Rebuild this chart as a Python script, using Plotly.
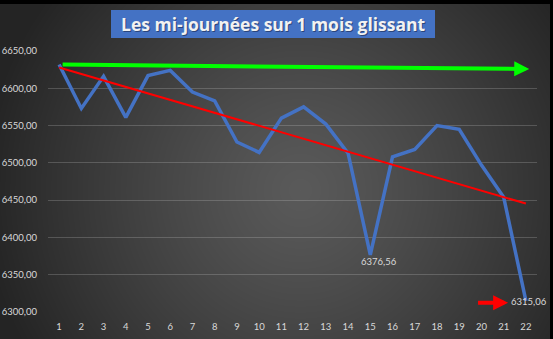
import base64
import struct
import zlib

import numpy as np
import plotly.graph_objects as go

# --- data -------------------------------------------------------------
jours = list(range(1, 23))
cours = [6632, 6573, 6616, 6561, 6617, 6624, 6595, 6583, 6528, 6514, 6560,
         6575, 6552, 6513, 6376.56, 6508, 6518, 6550, 6545, 6497, 6454, 6315.06]
y_ticks = [6300, 6350, 6400, 6450, 6500, 6550, 6600, 6650]
y_tick_labels = ["6300,00", "6350,00", "6400,00", "6450,00",
                 "6500,00", "6550,00", "6600,00", "6650,00"]
titre = "Les mi-journées sur 1 mois glissant"

# green "flat" arrow and small red arrow (data coordinates)
fleche_verte = {"x0": 1.09, "y0": 6631.8, "x1": 22.15, "y1": 6625.9}
fleche_rouge = {"x0": 19.78, "y0": 6312.5, "x1": 21.2, "y1": 6312.5}

# --- canvas geometry --------------------------------------------------
W, H = 553, 339
L, R, T, B = 48, 16, 51, 27
PW, PH = W - L - R, H - T - B


def px_x(x):
    return (x - L) / PW


def px_y(y):
    return (H - B - y) / PH


def png_data_uri(rgb):
    h, w, _ = rgb.shape
    raw = b"".join(b"\x00" + rgb[i].tobytes() for i in range(h))

    def chunk(tag, data):
        c = struct.pack(">I", len(data)) + tag + data
        return c + struct.pack(">I", zlib.crc32(tag + data) & 0xFFFFFFFF)

    png = (b"\x89PNG\r\n\x1a\n"
           + chunk(b"IHDR", struct.pack(">IIBBBBB", w, h, 8, 2, 0, 0, 0))
           + chunk(b"IDAT", zlib.compress(raw, 9))
           + chunk(b"IEND", b""))
    return "data:image/png;base64," + base64.b64encode(png).decode()


# dark radial gradient background with a thin black frame top/right
yy, xx = np.mgrid[0:H, 0:W].astype(float)
d = np.sqrt((xx - 300) ** 2 + (yy - 190) ** 2) / 320.0
d = np.clip(d, 0, 1.2)
inner, outer = 90.0, 36.0
val = outer + (inner - outer) * np.clip(1 - d ** 1.2, 0, 1)
img = np.repeat(val[:, :, None], 3, axis=2).astype(np.uint8)
img[0:4, :, :] = 0
img[:, W - 3:, :] = 0
bg = png_data_uri(img)

# linear trend line (least squares)
pente, ordo = np.polyfit(jours, cours, 1)
tendance = [pente * j + ordo for j in jours]

fig = go.Figure()
fig.add_trace(go.Scatter(x=jours, y=cours, mode="lines",
                         line=dict(color="#4472C4", width=3.5),
                         hoverinfo="skip", showlegend=False))
fig.add_trace(go.Scatter(x=jours, y=tendance, mode="lines",
                         line=dict(color="#FF0000", width=2),
                         hoverinfo="skip", showlegend=False))

fig.add_layout_image(dict(source=bg, xref="paper", yref="paper",
                          x=px_x(0), y=px_y(0),
                          sizex=W / PW, sizey=H / PH,
                          xanchor="left", yanchor="top",
                          sizing="stretch", layer="below"))

lbl_font = dict(family="Lato", size=9.5, color="#D9D9D9")

# value labels
fig.add_annotation(x=15, y=cours[14], text="6376,56", showarrow=False,
                   xanchor="center", yanchor="top", xshift=9, yshift=1,
                   font=lbl_font)
fig.add_annotation(x=22, y=cours[21], text="6315,06", showarrow=False,
                   xanchor="center", yanchor="middle", xshift=3, yshift=-1,
                   font=lbl_font)

# arrows
fig.add_annotation(x=fleche_verte["x1"], y=fleche_verte["y1"],
                   ax=fleche_verte["x0"], ay=fleche_verte["y0"],
                   xref="x", yref="y", axref="x", ayref="y", text="",
                   showarrow=True, arrowhead=2, arrowsize=0.75, arrowwidth=4,
                   arrowcolor="#00FF00")
fig.add_annotation(x=fleche_rouge["x1"], y=fleche_rouge["y1"],
                   ax=fleche_rouge["x0"], ay=fleche_rouge["y0"],
                   xref="x", yref="y", axref="x", ayref="y", text="",
                   showarrow=True, arrowhead=2, arrowsize=0.75, arrowwidth=4,
                   arrowcolor="#FF0000")

# title box
fig.add_shape(type="rect", xref="paper", yref="paper",
              x0=px_x(111), x1=px_x(435), y0=px_y(38), y1=px_y(10),
              fillcolor="#4472C4", line=dict(width=0), layer="above")
fig.add_annotation(xref="paper", yref="paper", x=px_x(273), y=px_y(24),
                   text=titre, showarrow=False, xanchor="center",
                   yanchor="middle", xshift=1, yshift=-1,
                   font=dict(family="Open Sans", size=17.5,
                             color="rgba(20,30,60,0.55)", weight="bold"))
fig.add_annotation(xref="paper", yref="paper", x=px_x(273), y=px_y(24),
                   text=titre, showarrow=False, xanchor="center",
                   yanchor="middle",
                   font=dict(family="Open Sans", size=17.5, color="#F2F2F2",
                             weight="bold"))

fig.update_layout(
    width=W, height=H,
    margin=dict(l=L, r=R, t=T, b=B, pad=0, autoexpand=False),
    paper_bgcolor="#3a3a3a", plot_bgcolor="rgba(0,0,0,0)",
    xaxis=dict(range=[0.5, 22.5], tickmode="array", tickvals=jours,
               ticktext=[str(j) for j in jours], showgrid=False,
               zeroline=False, showline=False, ticks="",
               ticklabelstandoff=7, automargin=False,
               tickfont=lbl_font, fixedrange=True),
    yaxis=dict(range=[6300, 6650], tickmode="array", tickvals=y_ticks,
               ticktext=y_tick_labels, showgrid=True,
               gridcolor="rgba(217,217,217,0.22)", gridwidth=1,
               zeroline=False, showline=False, ticks="",
               ticklabelstandoff=10, automargin=False,
               tickfont=lbl_font, fixedrange=True),
)

fig.write_html("out.html", config={"displayModeBar": False})
